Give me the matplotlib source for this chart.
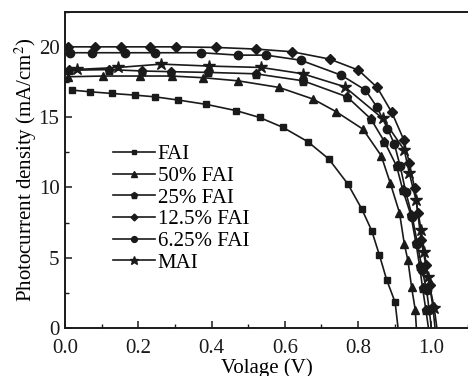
import matplotlib
matplotlib.use("Agg")
import matplotlib.pyplot as plt
from matplotlib.ticker import MultipleLocator

plt.rcParams['font.family'] = ['Liberation Serif', 'DejaVu Serif']
plt.rcParams['mathtext.fontset'] = 'stix'

# J-V data (V in volts, J in mA/cm2); last point is Voc (no marker)
v_fai = [0.018, 0.068, 0.127, 0.191, 0.245, 0.309, 0.386, 0.468, 0.531, 0.595,
         0.663, 0.720, 0.772, 0.810, 0.837, 0.858, 0.878, 0.901, 0.909]
j_fai = [16.94, 16.82, 16.70, 16.58, 16.46, 16.23, 15.92, 15.47, 14.99, 14.28,
         13.26, 12.03, 10.25, 8.47, 6.93, 5.20, 3.42, 1.83, 0.0]

v_50 = [0.009, 0.104, 0.204, 0.291, 0.377, 0.472, 0.584, 0.677, 0.740, 0.813,
        0.863, 0.888, 0.913, 0.926, 0.936, 0.946, 0.956, 0.959]
j_50 = [17.89, 17.94, 17.94, 17.94, 17.82, 17.60, 17.13, 16.30, 15.40, 14.16,
        12.27, 10.30, 8.20, 6.00, 4.80, 2.90, 1.28, 0.0]

v_25 = [0.010, 0.120, 0.210, 0.290, 0.390, 0.520, 0.650, 0.770, 0.835, 0.872,
        0.905, 0.922, 0.944, 0.958, 0.968, 0.976, 0.985, 0.992]
j_25 = [18.35, 18.40, 18.30, 18.25, 18.20, 18.10, 17.60, 16.46, 14.88, 13.26,
        11.53, 9.82, 8.04, 6.03, 4.40, 2.83, 1.28, 0.0]

v_125 = [0.009, 0.082, 0.153, 0.232, 0.302, 0.411, 0.522, 0.620, 0.722, 0.801,
         0.852, 0.892, 0.925, 0.940, 0.954, 0.963, 0.972, 0.985, 0.995, 1.004, 1.010]
j_125 = [20.02, 20.02, 20.02, 20.02, 20.02, 19.98, 19.86, 19.67, 19.15, 18.36,
         17.13, 15.35, 13.38, 11.72, 9.99, 8.16, 6.26, 4.48, 3.06, 1.52, 0.0]

v_625 = [0.014, 0.073, 0.163, 0.245, 0.372, 0.472, 0.548, 0.643, 0.754, 0.820,
         0.851, 0.880, 0.899, 0.915, 0.930, 0.948, 0.962, 0.975, 0.987, 0.994, 1.000]
j_625 = [19.60, 19.60, 19.60, 19.60, 19.60, 19.43, 19.43, 19.07, 18.00, 16.94,
         15.75, 14.20, 13.10, 11.50, 9.70, 7.90, 6.00, 4.10, 2.70, 1.28, 0.0]

v_mai = [0.032, 0.145, 0.263, 0.393, 0.536, 0.649, 0.763, 0.867, 0.926, 0.940,
         0.958, 0.972, 0.981, 0.990, 1.008, 1.015]
j_mai = [18.41, 18.55, 18.79, 18.65, 18.55, 18.10, 17.18, 14.92, 12.67, 11.00,
         9.10, 6.97, 5.43, 3.65, 1.40, 0.0]

series = [
    ('FAI', v_fai, j_fai, 's', 4.5),
    ('50% FAI', v_50, j_50, '^', 5.5),
    ('25% FAI', v_25, j_25, 'p', 6.5),
    ('12.5% FAI', v_125, j_125, 'D', 5),
    ('6.25% FAI', v_625, j_625, 'o', 6),
    ('MAI', v_mai, j_mai, '*', 9),
]

fig = plt.figure(figsize=(4.68, 3.76), dpi=100)
ax = fig.add_axes([0.139, 0.128, 0.861, 0.84])

for label, v, j, m, ms in series:
    ax.plot(v, j, color='#1a1a1a', linewidth=1.2, marker=m, markersize=ms,
            markevery=slice(0, len(v) - 1), label=label)

ax.set_xlim(0, 1.1)
ax.set_ylim(0, 22.5)
ax.xaxis.set_major_locator(MultipleLocator(0.2))
ax.xaxis.set_minor_locator(MultipleLocator(0.1))
ax.yaxis.set_major_locator(MultipleLocator(5))
ax.yaxis.set_minor_locator(MultipleLocator(2.5))
ax.xaxis.set_major_formatter(plt.FuncFormatter(lambda x, p: f'{x:.1f}'))
ax.tick_params(which='both', direction='in', labelsize=15, colors='#1a1a1a')
ax.tick_params(which='major', length=5, width=1.1, pad=4)
ax.tick_params(axis='x', which='major', pad=8)
ax.tick_params(which='minor', length=3, width=1.0)
ax.spines['right'].set_visible(False)
for s in ['left', 'bottom', 'top']:
    ax.spines[s].set_linewidth(1.4)
    ax.spines[s].set_color('#1a1a1a')

ax.set_xlabel('Volage (V)', fontsize=15, labelpad=0)
ax.set_ylabel('Photocurrent density (mA/cm$^2$)', fontsize=15, labelpad=0)

ax.legend(loc='upper left', bbox_to_anchor=(0.119, 0.58), frameon=False,
          fontsize=15, handlelength=2.0, handletextpad=0.15, labelspacing=0.1,
          borderaxespad=0, borderpad=0, markerscale=0.7)

fig.savefig('out.png', dpi=100)
